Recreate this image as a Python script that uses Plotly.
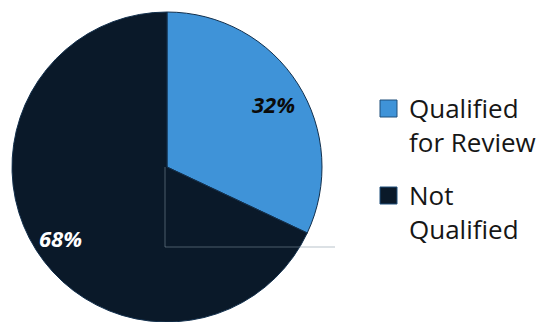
import math
import plotly.graph_objects as go

# Chart data
labels = ["Qualified for Review", "Not Qualified"]
legend_lines = [["Qualified", "for Review"], ["Not", "Qualified"]]
values = [32, 68]
colors = ["#3f93d8", "#0a1929"]
label_colors = ["#0b0b0b", "#ffffff"]

W, H = 542, 322
CX, CY, R = 167, 167, 155  # pie centre / radius in pixels


def px(x):
    return x / W


def py(y):
    return 1 - y / H


fig = go.Figure(
    go.Pie(
        labels=labels,
        values=values,
        sort=False,
        direction="clockwise",
        rotation=0,
        marker=dict(colors=colors, line=dict(color="#13304d", width=1)),
        textinfo="none",
        hoverinfo="label+percent",
        domain=dict(x=[px(CX - R), px(CX + R)], y=[py(CY + R), py(CY - R)]),
        showlegend=False,
    )
)

annotations = []
shapes = []

# Percentage labels placed along each slice's mid-angle
total = sum(values)
start = 0.0
for v, c in zip(values, label_colors):
    frac = v / total
    mid = (start + frac / 2) * 2 * math.pi
    start += frac
    lx = CX + 0.81 * R * math.sin(mid)
    ly = CY - 0.81 * R * math.cos(mid)
    annotations.append(dict(
        x=px(lx), y=py(ly), xref="paper", yref="paper", yshift=-4,
        text=f"<b><i>{round(v / total * 100)}%</i></b>",
        showarrow=False, xanchor="center", yanchor="middle",
        font=dict(family="Open Sans", size=22, color=c),
    ))

# Legend: colour swatches and two-line captions
legend_tops = [100, 187]
for lines, col, top in zip(legend_lines, colors, legend_tops):
    shapes.append(dict(
        type="rect", xref="paper", yref="paper",
        x0=px(380), x1=px(397), y0=py(top + 17), y1=py(top),
        fillcolor=col, line=dict(color="#1f4f7a", width=1),
    ))
    annotations.append(dict(
        x=px(407), y=py(top - 12), xref="paper", yref="paper",
        text="<br>".join(lines), showarrow=False,
        xanchor="left", yanchor="top", align="left",
        font=dict(family="Open Sans", size=26, color="#161616"),
    ))

# Thin guide lines below the centre of the pie
shapes.append(dict(type="line", xref="paper", yref="paper",
                   x0=px(CX - 2), x1=px(CX - 2), y0=py(CY), y1=py(247),
                   line=dict(color="rgba(130,145,160,0.55)", width=1)))
shapes.append(dict(type="line", xref="paper", yref="paper",
                   x0=px(CX - 2), x1=px(335), y0=py(247), y1=py(247),
                   line=dict(color="rgba(130,145,160,0.55)", width=1)))

fig.update_layout(
    width=W, height=H,
    margin=dict(l=0, r=0, t=0, b=0),
    paper_bgcolor="#ffffff",
    plot_bgcolor="#ffffff",
    annotations=annotations,
    shapes=shapes,
)

fig.write_html("out.html")
